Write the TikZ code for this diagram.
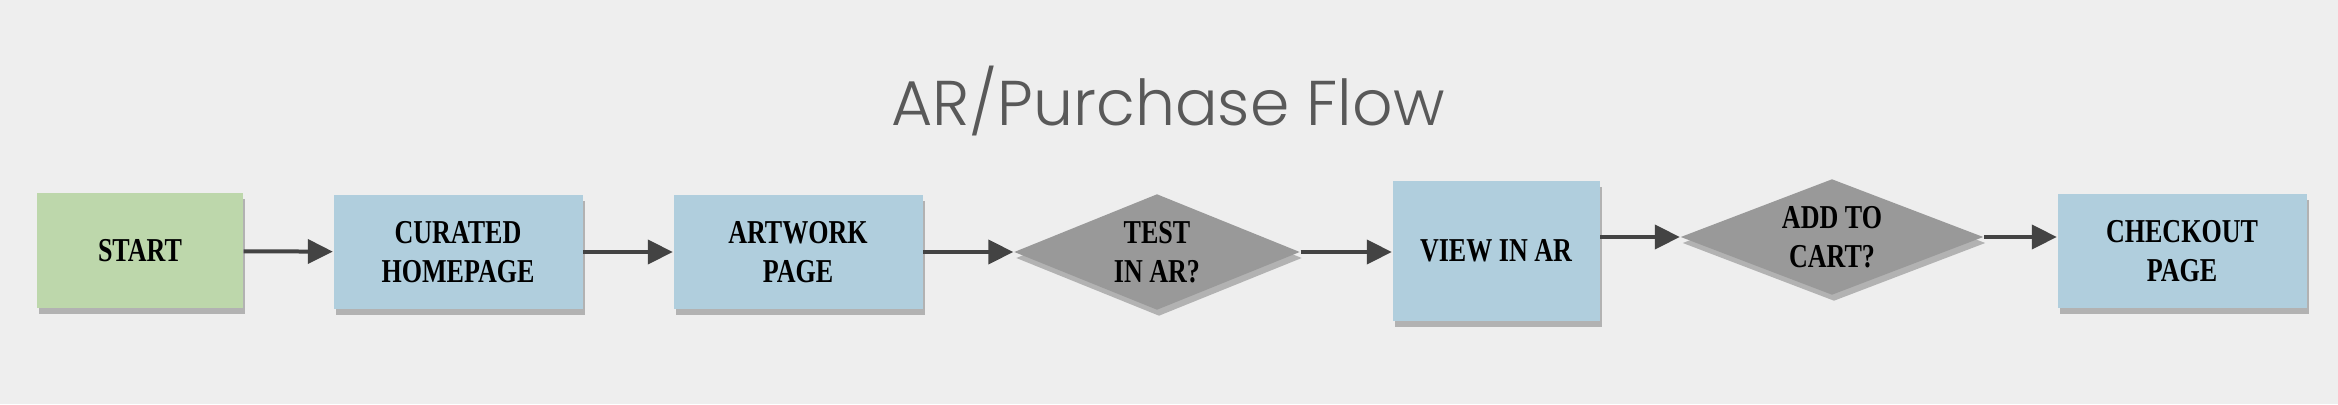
\documentclass[tikz,border=0pt]{standalone}
\usepackage{fontspec}
\setsansfont{Poppins Light}
\newfontfamily\boxfont[FakeStretch=0.78]{Liberation Serif}
\usetikzlibrary{arrows.meta,shapes.geometric,shadows}
\definecolor{pagebg}{HTML}{EEEEEE}
\definecolor{startgreen}{HTML}{BDD7AB}
\definecolor{stepblue}{HTML}{B0CEDD}
\definecolor{choicegray}{HTML}{999999}
\definecolor{arrowgray}{HTML}{434343}
\definecolor{titlegray}{HTML}{595959}

\begin{document}
\begin{tikzpicture}[x=1cm,y=1cm]
\tikzset{
  boxshadow/.style={drop shadow={shadow xshift=0.02cm,shadow yshift=-0.06cm,fill=black,opacity=0.25}},
  stepbox/.style={rectangle,fill=stepblue,minimum width=2.49cm,minimum height=1.14cm,inner sep=1pt,
    align=center,boxshadow,font=\boxfont\bfseries\fontsize{9.5}{11.2}\selectfont},
  startbox/.style={stepbox,fill=startgreen,minimum width=2.06cm,minimum height=1.15cm},
  choice/.style={diamond,aspect=2.6,fill=choicegray,inner sep=0pt,align=center,boxshadow,
    font=\boxfont\bfseries\fontsize{9.5}{11.2}\selectfont},
  flow/.style={-{Triangle[length=0.25cm,width=0.24cm]},line width=0.04cm,draw=arrowgray}
}
\fill[pagebg] (0,0) rectangle (23.38,4.04);
\node[font=\sffamily\fontsize{18}{20}\selectfont,text=titlegray] (n_title) at (11.68,3.03) {AR/Purchase Flow};
\node[startbox] (n_start) at (1.40,1.53) {START};
\node[stepbox] (n_home) at (4.58,1.52) {CURATED\\HOMEPAGE};
\node[stepbox] (n_art) at (7.98,1.52) {ARTWORK\\PAGE};
\node[choice,minimum width=2.86cm,minimum height=1.16cm] (n_test) at (11.57,1.52) {TEST\\IN AR?};
\node[stepbox,minimum width=2.07cm,minimum height=1.39cm] (n_view) at (14.96,1.53) {VIEW IN AR};
\node[choice,minimum width=3.03cm,minimum height=1.16cm] (n_cart) at (18.32,1.67) {ADD TO\\CART?};
\node[stepbox] (n_check) at (21.82,1.53) {CHECKOUT\\PAGE};
\draw[flow] (n_start) -- (n_home);
\draw[flow] (n_home) -- (n_art);
\draw[flow] (n_art) -- (n_test);
\draw[flow] (n_test.east) -- (n_test.east -| n_view.west);
\draw[flow] (n_view.east |- n_cart.west) -- (n_cart.west);
\draw[flow] (n_cart.east) -- (n_cart.east -| n_check.west);
\end{tikzpicture}
\end{document}
